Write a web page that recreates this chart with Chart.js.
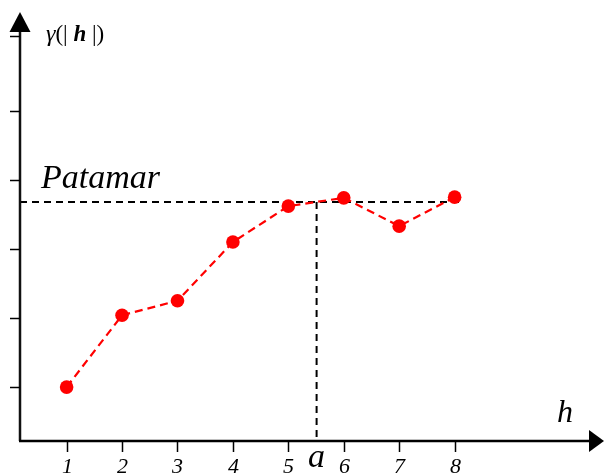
<!DOCTYPE html>
<html>
<head>
<meta charset="utf-8">
<style>
  html, body { margin: 0; padding: 0; background: #ffffff; }
  canvas { display: block; }
</style>
<script src="https://cdn.jsdelivr.net/npm/chart.js@4.4.1/dist/chart.umd.min.js"></script>
</head>
<body>
<canvas id="vario" width="604" height="475"></canvas>
<script>
// Experimental semivariogram: lag h against gamma(|h|)
const hLags = [1, 2, 3, 4, 5, 6, 7, 8];
const gammaValues = [1.0, 2.04, 2.25, 3.10, 3.62, 3.74, 3.33, 3.75];
const xTickLabels = ['1', '2', '3', '4', '5', '6', '7', '8'];
const yTickValues = [1, 2, 3, 4, 5, 6.08];
const sill = 3.68;          // "Patamar"
const rangeA = 5.51;        // range "a"
const sillEnd = 8.13;       // where the sill line stops

const SERIF = '"Liberation Serif", "DejaVu Serif", serif';

const axesPlugin = {
  id: 'variogramAxes',
  beforeDatasetsDraw(chart) {
    const { ctx, scales: { x, y } } = chart;
    const x0 = x.getPixelForValue(x.min);
    const y0 = y.getPixelForValue(y.min);
    const xTip = x.getPixelForValue(x.max);
    const yTip = y.getPixelForValue(y.max);
    ctx.save();

    // dashed sill and range guides
    ctx.strokeStyle = '#000';
    ctx.lineWidth = 2;
    ctx.setLineDash([7, 5]);
    ctx.beginPath();
    ctx.moveTo(x0, y.getPixelForValue(sill));
    ctx.lineTo(x.getPixelForValue(sillEnd), y.getPixelForValue(sill));
    ctx.stroke();
    ctx.beginPath();
    ctx.moveTo(x.getPixelForValue(rangeA), y.getPixelForValue(sill));
    ctx.lineTo(x.getPixelForValue(rangeA), y0);
    ctx.stroke();
    ctx.setLineDash([]);

    // axes with arrow heads
    ctx.strokeStyle = '#111';
    ctx.lineWidth = 2.5;
    ctx.beginPath();
    ctx.moveTo(x0, y0);
    ctx.lineTo(x0, yTip + 18);
    ctx.stroke();
    ctx.strokeStyle = '#000';
    ctx.beginPath();
    ctx.moveTo(x0 - 1, y0);
    ctx.lineTo(xTip - 12, y0);
    ctx.stroke();

    ctx.fillStyle = '#000';
    ctx.beginPath();
    ctx.moveTo(x0, yTip);
    ctx.lineTo(x0 + 10.5, yTip + 20);
    ctx.lineTo(x0 - 10.5, yTip + 20);
    ctx.closePath();
    ctx.fill();
    ctx.beginPath();
    ctx.moveTo(xTip, y0);
    ctx.lineTo(xTip - 15, y0 - 11);
    ctx.lineTo(xTip - 15, y0 + 11);
    ctx.closePath();
    ctx.fill();

    // y tick marks (unlabelled)
    ctx.lineWidth = 1.5;
    ctx.strokeStyle = '#000';
    yTickValues.forEach(v => {
      const py = Math.round(y.getPixelForValue(v)) + 0.5;
      ctx.beginPath();
      ctx.moveTo(x0 - 10, py);
      ctx.lineTo(x0, py);
      ctx.stroke();
    });

    // x tick marks and labels
    ctx.font = 'italic 22px ' + SERIF;
    ctx.textAlign = 'center';
    ctx.textBaseline = 'alphabetic';
    hLags.forEach((h, i) => {
      const px = Math.round(x.getPixelForValue(h)) + 0.5;
      ctx.beginPath();
      ctx.moveTo(px, y0);
      ctx.lineTo(px, y0 + 11);
      ctx.stroke();
      ctx.fillText(xTickLabels[i], px, y0 + 32);
    });

    // range label
    ctx.font = 'italic 34px ' + SERIF;
    ctx.fillText('a', x.getPixelForValue(rangeA), y0 + 26);

    // horizontal axis title
    ctx.textAlign = 'left';
    ctx.font = 'italic 32px ' + SERIF;
    ctx.fillText('h', 557, 422);

    // sill label
    ctx.font = 'italic 34px ' + SERIF;
    ctx.fillText('Patamar', 41, 188);

    // vertical axis title: γ(| h |)
    let tx = 46;
    const ty = 41;
    const part = (text, font) => {
      ctx.font = font;
      ctx.fillText(text, tx, ty);
      tx += ctx.measureText(text).width;
    };
    part('γ', 'italic 24px ' + SERIF);
    part('(| ', '23px ' + SERIF);
    part('h', 'bold italic 23px ' + SERIF);
    part(' |)', '23px ' + SERIF);

    ctx.restore();
  }
};

new Chart(document.getElementById('vario'), {
  type: 'scatter',
  data: {
    datasets: [{
      data: hLags.map((h, i) => ({ x: h, y: gammaValues[i] })),
      showLine: true,
      borderColor: '#ff0000',
      borderWidth: 2.2,
      borderDash: [8, 5],
      backgroundColor: '#ff0000',
      pointBackgroundColor: '#ff0000',
      pointBorderColor: '#ff0000',
      pointRadius: 6.8,
      pointBorderWidth: 0,
      clip: false
    }]
  },
  options: {
    responsive: false,
    animation: false,
    layout: { autoPadding: false, padding: { left: 20, right: 0, top: 12, bottom: 34 } },
    plugins: { legend: { display: false }, tooltip: { enabled: false } },
    scales: {
      x: { type: 'linear', min: 0.159, max: 10.695, display: false },
      y: { type: 'linear', min: 0.22, max: 6.43, display: false }
    }
  },
  plugins: [axesPlugin]
});
</script>
</body>
</html>
